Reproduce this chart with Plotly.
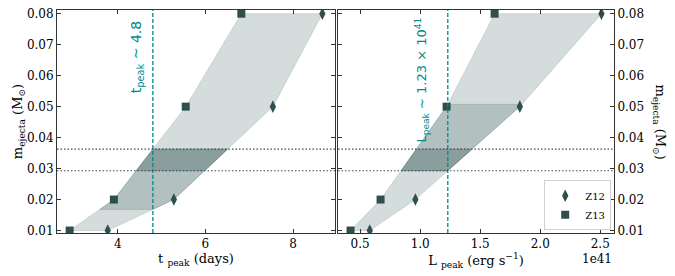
import numpy as np
import plotly.graph_objects as go

# ---- data ----
m_ejecta = [0.01, 0.02, 0.05, 0.08]
t_peak_Z12 = [3.77, 5.28, 7.54, 8.67]
t_peak_Z13 = [2.90, 3.91, 5.55, 6.82]
L_peak_Z12 = [0.58, 0.96, 1.83, 2.51]   # units of 1e41 erg/s
L_peak_Z13 = [0.42, 0.67, 1.22, 1.62]
t_obs = 4.8
L_obs = 1.23
series_names = ["Z12", "Z13"]

SLATE = "#2f4f4f"
TEAL = "#008b8b"
FONT = "DejaVu Serif"


def band_polygon(xl, xr, y, ylo=None, yhi=None):
    y = np.asarray(y, float)
    if ylo is None:
        ylo = y.min()
    if yhi is None:
        yhi = y.max()
    ys = [ylo] + [v for v in y if ylo < v < yhi] + [yhi]
    ys = np.array(ys)
    left = np.interp(ys, y, xl)
    right = np.interp(ys, y, xr)
    px = list(left) + list(right[::-1]) + [left[0]]
    py = list(ys) + list(ys[::-1]) + [ys[0]]
    return px, py


# limits from the observed values
y_t_lo = float(np.interp(t_obs, t_peak_Z12, m_ejecta))
y_t_hi = float(np.interp(t_obs, t_peak_Z13, m_ejecta))
y_L_lo = float(np.interp(L_obs, L_peak_Z12, m_ejecta))
y_L_hi = float(np.interp(L_obs, L_peak_Z13, m_ejecta))
y_both_lo = max(y_t_lo, y_L_lo)
y_both_hi = min(y_t_hi, y_L_hi)

fig = go.Figure()


def add_panel(xZ13, xZ12, ylo, yhi, xa, ya, showleg):
    layers = [
        (None, None, 0.2),
        (ylo, yhi, 0.2),
        (y_both_lo, y_both_hi, 0.3),
    ]
    for lo, hi, a in layers:
        px, py = band_polygon(xZ13, xZ12, m_ejecta, lo, hi)
        fig.add_trace(go.Scatter(
            x=px, y=py, mode="lines", fill="toself",
            fillcolor=f"rgba(47,79,79,{a})",
            line=dict(color=f"rgba(47,79,79,{a})", width=0.8),
            hoverinfo="skip", showlegend=False, xaxis=xa, yaxis=ya))
    fig.add_trace(go.Scatter(
        x=xZ12, y=m_ejecta, mode="markers", name=series_names[0],
        marker=dict(symbol="diamond-tall", size=9, color=SLATE),
        showlegend=showleg, xaxis=xa, yaxis=ya))
    fig.add_trace(go.Scatter(
        x=xZ13, y=m_ejecta, mode="markers", name=series_names[1],
        marker=dict(symbol="square", size=8, color=SLATE),
        showlegend=showleg, xaxis=xa, yaxis=ya))


add_panel(t_peak_Z13, t_peak_Z12, y_t_lo, y_t_hi, "x", "y", False)
add_panel(L_peak_Z13, L_peak_Z12, y_L_lo, y_L_hi, "x2", "y2", True)


def xrange_of(a, b):
    lo = min(min(a), min(b))
    hi = max(max(a), max(b))
    pad = 0.05 * (hi - lo)
    return [lo - pad, hi + pad]


yr = [0.0092, 0.0812]
ax_common = dict(
    showgrid=False, zeroline=False, showline=True, linecolor="#333",
    linewidth=1, ticks="inside", ticklen=4, tickcolor="#333",
    mirror="allticks",
    tickfont=dict(family=FONT, size=12, color="black"),
)
ytickvals = [0.01, 0.02, 0.03, 0.04, 0.05, 0.06, 0.07, 0.08]
yticktext = [f"{v:.2f}" for v in ytickvals]

fig.update_layout(
    width=675, height=276,
    margin=dict(l=57, r=61, t=7, b=43),
    paper_bgcolor="white", plot_bgcolor="white",
    font=dict(family=FONT, size=12, color="black"),
    xaxis=dict(domain=[0, 0.4991], range=xrange_of(t_peak_Z12, t_peak_Z13),
               tickvals=[4, 6, 8], anchor="y",
               title=dict(text="t <sub>peak</sub> (days)",
                          font=dict(family=FONT, size=13), standoff=2),
               **ax_common),
    xaxis2=dict(domain=[0.5045, 1], range=xrange_of(L_peak_Z12, L_peak_Z13),
                tickvals=[0.5, 1.0, 1.5, 2.0, 2.5], ticktext=["0.5", "1.0", "1.5", "2.0", "2.5"],
                anchor="y2",
                title=dict(text="L <sub>peak</sub> (erg s<sup>−1</sup>)",
                           font=dict(family=FONT, size=13), standoff=2),
                **ax_common),
    yaxis=dict(range=yr, anchor="x", tickvals=ytickvals, ticktext=yticktext,
               title=dict(text="m<sub>ejecta</sub> (M<sub>⊙</sub>)",
                          font=dict(family=FONT, size=13), standoff=1),
               **ax_common),
    yaxis2=dict(range=yr, anchor="x2", side="right", tickvals=ytickvals,
                ticktext=yticktext, **ax_common),
    legend=dict(x=0.995, y=0.012, xanchor="right", yanchor="bottom",
                bgcolor="white", bordercolor="#d0d0d0", borderwidth=1,
                font=dict(family=FONT, size=10), itemwidth=30,
                tracegroupgap=0),
    showlegend=True,
)

# vertical observed lines
fig.add_shape(type="line", xref="x", yref="y domain", x0=t_obs, x1=t_obs,
              y0=0, y1=1, line=dict(color=TEAL, width=1.3, dash="4px,2px"))
fig.add_shape(type="line", xref="x2", yref="y2 domain", x0=L_obs, x1=L_obs,
              y0=0, y1=1, line=dict(color=TEAL, width=1.3, dash="4px,2px"))
# horizontal dotted limits
for xr_, yr_ in [("x domain", "y"), ("x2 domain", "y2")]:
    for yv in (y_both_lo, y_both_hi):
        fig.add_shape(type="line", xref=xr_, yref=yr_, x0=0, x1=1, y0=yv, y1=yv,
                      line=dict(color=SLATE, width=1.1, dash="1.5px,2px"))

# rotated labels
fig.add_annotation(x=t_obs, y=0.0782, xref="x", yref="y", xshift=-16,
                   text="t<sub>peak</sub> ~ 4.8", textangle=-90, showarrow=False,
                   xanchor="center", yanchor="top",
                   font=dict(family="DejaVu Sans", size=14, color=TEAL))
fig.add_annotation(x=L_obs, y=0.0795, xref="x2", yref="y2", xshift=-26,
                   text="L<sub>peak</sub> ~ 1.23 × 10<sup>41</sup>", textangle=-90,
                   showarrow=False, xanchor="center", yanchor="top",
                   font=dict(family="DejaVu Sans", size=13, color=TEAL))
# right y-axis title
fig.add_annotation(x=1, y=0.5, xref="paper", yref="paper", xshift=45,
                   text="m<sub>ejecta</sub> (M<sub>⊙</sub>)", textangle=90,
                   showarrow=False, xanchor="center", yanchor="middle",
                   font=dict(family=FONT, size=13, color="black"))
# offset text
fig.add_annotation(x=1, y=0, xref="paper", yref="paper", yshift=-17,
                   text="1e41", showarrow=False, xanchor="right", yanchor="top",
                   font=dict(family=FONT, size=12, color="black"))

fig.write_html("out.html", config={"displayModeBar": False},
               post_script="document.body.style.margin='0';")
